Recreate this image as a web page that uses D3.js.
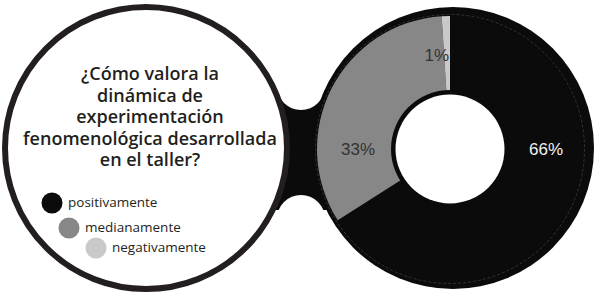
<!DOCTYPE html>
<html><head><meta charset="utf-8">
<script src="https://cdn.jsdelivr.net/npm/d3@7"></script>
<style>html,body{margin:0;padding:0;background:#fff}svg{display:block}</style>
</head><body>
<svg id="chart" width="599" height="298"></svg>
<script>
const categories = ["positivamente", "medianamente", "negativamente"];
const values = [66, 33, 1];
const labels = ["66%", "33%", "1%"];
const colors = ["#0b0b0c", "#878787", "#c9c9c9"];
const titleLines = ["¿Cómo valora la", "dinámica de", "experimentación", "fenomenológica desarrollada", "en el taller?"];

const svg = d3.select("#chart");
const ink = "#0b0b0c";

// connector between the two lenses
const conn = svg.append("g");
conn.append("rect").attr("x", 268).attr("y", 90).attr("width", 64).attr("height", 120).attr("fill", ink);
conn.append("circle").attr("cx", 301).attr("cy", 86).attr("r", 24).attr("fill", "#fff");
conn.append("circle").attr("cx", 301).attr("cy", 219).attr("r", 24).attr("fill", "#fff");

// left lens
svg.append("circle").attr("cx", 146).attr("cy", 148).attr("r", 141)
  .attr("fill", "#fff").attr("stroke", "#231f20").attr("stroke-width", 6);

// right lens
svg.append("circle").attr("cx", 453).attr("cy", 148).attr("r", 141).attr("fill", ink);

const cx = 450, cy = 149;
const g = svg.append("g").attr("transform", `translate(${cx},${cy})`);
const pie = d3.pie().sort(null).startAngle(0).endAngle(2 * Math.PI);
const arcs = pie(values);
const arc = d3.arc().innerRadius(58).outerRadius(133);
g.selectAll("path.slice").data(arcs).join("path").attr("class", "slice")
  .attr("d", arc).attr("fill", (d, i) => colors[i]);
g.append("circle").attr("r", 134.5).attr("fill", "none")
  .attr("stroke", "#777").attr("stroke-width", 0.6).attr("stroke-dasharray", "3,2").attr("opacity", 0.6);
g.append("circle").attr("r", 59).attr("fill", ink);
g.append("circle").attr("r", 54.5).attr("fill", "#fff");

const labelR = [96, 92, 95];
const lblColors = ["#f2f2f2", "#333", "#333"];
const lblAngles = [Math.PI / 2, 3 * Math.PI / 2, 2 * Math.PI - 0.14];
g.selectAll("text.pct").data(arcs).join("text").attr("class", "pct")
  .attr("x", (d, i) => Math.sin(lblAngles[i]) * labelR[i])
  .attr("y", (d, i) => -Math.cos(lblAngles[i]) * labelR[i])
  .attr("dy", "0.36em")
  .attr("text-anchor", "middle")
  .attr("font-family", "Liberation Sans, Arial, sans-serif")
  .attr("font-size", 17)
  .attr("fill", (d, i) => lblColors[i])
  .text((d, i) => labels[i]);

// title
const title = svg.append("text").attr("text-anchor", "middle")
  .attr("font-family", "'Open Sans', Lato, sans-serif")
  .attr("font-weight", 600).attr("font-size", 18).attr("fill", "#231f20");
titleLines.forEach((t, i) => {
  title.append("tspan").attr("x", 150).attr("y", 80 + i * 21.5).text(t);
});

// legend
const legX = [52, 69, 96], legY = [203, 228, 248];
const leg = svg.append("g");
categories.forEach((c, i) => {
  leg.append("circle").attr("cx", legX[i]).attr("cy", legY[i]).attr("r", 10.5).attr("fill", colors[i]);
  leg.append("text").attr("x", legX[i] + 16).attr("y", legY[i]).attr("dy", "0.32em")
    .attr("font-family", "'Open Sans', Lato, sans-serif").attr("font-size", 13.5)
    .attr("fill", "#231f20").text(c);
});
</script>
</body></html>
